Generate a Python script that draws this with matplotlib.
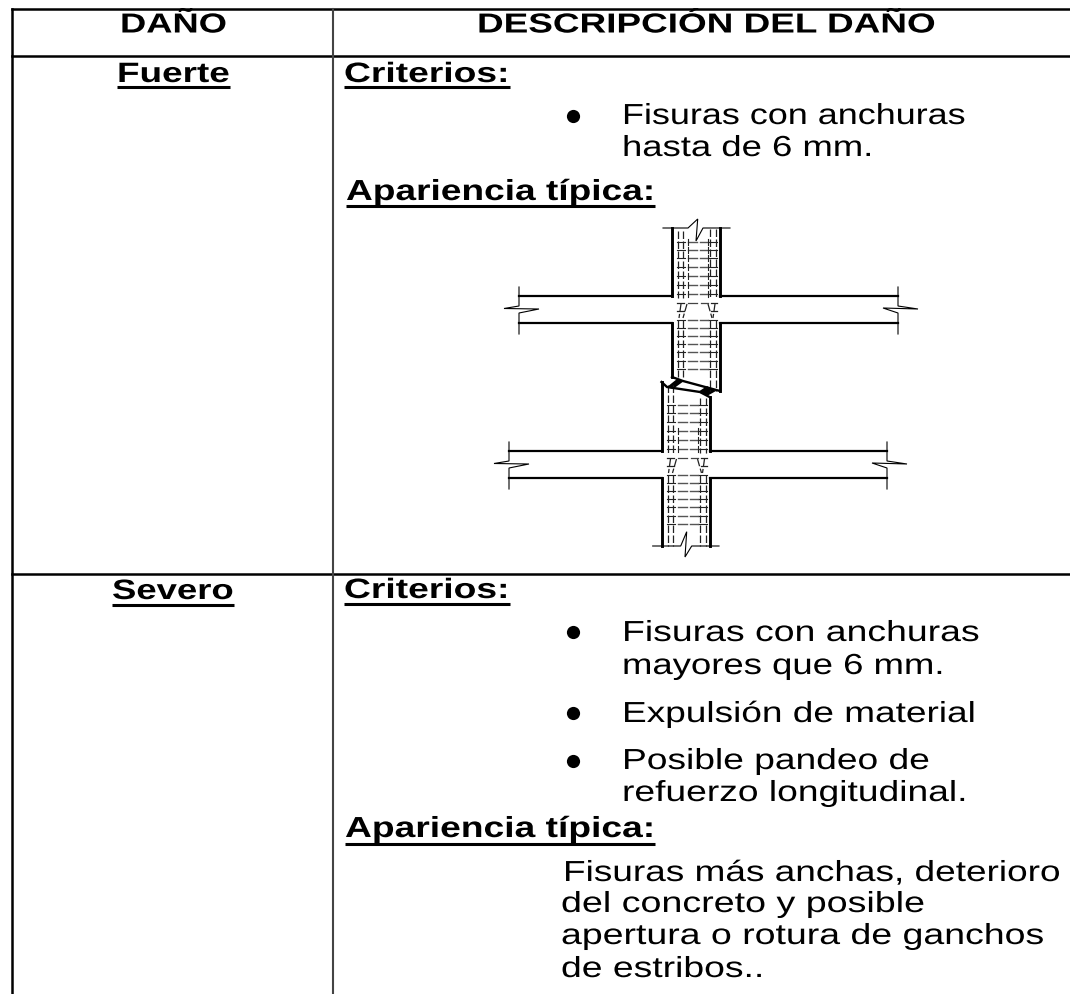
import matplotlib
matplotlib.use("Agg")
import matplotlib.pyplot as plt
import matplotlib.patheffects as pe
from matplotlib.patches import Polygon, Rectangle
from matplotlib.transforms import Affine2D

plt.rcParams['font.family'] = ['Liberation Sans', 'DejaVu Sans']

headers = ["DAÑO", "DESCRIPCIÓN DEL DAÑO"]
damage_levels = ["Fuerte", "Severo"]
section_labels = ["Criterios:", "Apariencia típica:"]
fuerte_lines = ["Fisuras con anchuras", "hasta de 6 mm."]
severo_lines = ["Fisuras con anchuras", "mayores que 6 mm.", "Expulsión de material",
                "Posible pandeo de", "refuerzo longitudinal."]
severo_note = ["Fisuras más anchas, deterioro", "del concreto y posible",
               "apertura o rotura de ganchos", "de estribos.."]

# estribos, medidos desde la cara superior de la viga
ties_above = [-54, -46, -38, -29, -20, -11, -2]
ties_below = [24, 32, 40, 48, 56, 65, 73]
bars = [6, 11, 38, 44]

fig = plt.figure(figsize=(10.7, 9.95), dpi=100)
ax = fig.add_axes([0, 0, 1, 1])
ax.set_xlim(0, 1070)
ax.set_ylim(995, 0)
ax.axis('off')
renderer = fig.canvas.get_renderer()


class Stretch(pe.AbstractPathEffect):
    def __init__(self, sx, x0):
        self.sx = sx
        self.x0 = x0

    def draw_path(self, renderer, gc, tpath, affine, rgbFace=None):
        t = Affine2D().translate(-self.x0, 0).scale(self.sx, 1).translate(self.x0, 0)
        renderer.draw_path(gc, tpath, affine + t, rgbFace)


def put(txt, x0, x1, base, size=29, bold=False, under=None, clip=None):
    t = ax.text(x0, base, txt, fontsize=size * 0.72, va='baseline', ha='left', color='black',
                fontweight='bold' if bold else 'normal')
    w = t.get_window_extent(renderer).width
    t.set_path_effects([Stretch((x1 - x0) / w, x0)])
    if clip is not None:
        t.set_clip_path(Rectangle((0, clip), 1070, 995 - clip, transform=ax.transData))
    if under is not None:
        ax.plot([x0, x1], [under, under], color='black', lw=2.2, solid_capstyle='butt')


def line(xs, ys, lw=1.8, color='black'):
    ax.plot(xs, ys, color=color, lw=lw, solid_joinstyle='miter')


def dashed(xs, ys):
    ax.plot(xs, ys, color='#222222', lw=0.9, dashes=(6, 2))


def ties(cx, ys, tee):
    for y in ys:
        line([cx + 5, cx + 13], [y, y], 0.8, '#222222')
        line([cx + 36, cx + 45], [y, y], 0.8, '#222222')
        line([cx + 16, cx + 25], [y, y], 1.0, '#555555')
        line([cx + 28, cx + 36], [y, y], 1.0, '#555555')
        if tee:
            line([cx + 16, cx + 16], [y - 3, y + 3], 0.8, '#222222')
            line([cx + 36, cx + 36], [y - 3, y + 3], 0.8, '#222222')


def joint(cx, top, up_l, up_r, low_l, low_r, beam_left, beam_right, flat_above):
    bot = top + 27
    # vigas
    line([beam_left, cx], [top, top], 1.6)
    line([beam_left, cx], [bot, bot], 1.6)
    line([cx + 48, beam_right], [top, top], 1.6)
    line([cx + 48, beam_right], [bot, bot], 1.6)
    line([beam_left, beam_left, beam_left - 15, beam_left + 20, beam_left, beam_left],
         [top - 9, top + 10, top + 12.5, top + 13, top + 17, top + 38], 0.8)
    line([beam_right, beam_right, beam_right + 20, beam_right - 15, beam_right, beam_right],
         [top - 9, top + 10, top + 13, top + 12, top + 17, top + 38], 0.8)
    # columna
    line([cx, cx], [up_l, top], 2.1)
    line([cx + 48, cx + 48], [up_r, top], 2.1)
    line([cx, cx], [bot, low_l], 2.1)
    line([cx + 48, cx + 48], [bot, low_r], 2.1)
    # barras
    for b in bars:
        up = up_l + 3 if b < 20 else up_r + 1
        low = low_l if b < 20 else low_r
        dashed([cx + b, cx + b], [up, top + 2])
        dashed([cx + b, cx + b], [top + 24, low])
    # estribos
    above = [top + dy for dy in ties_above if top + dy > up_r]
    n = flat_above
    ties(cx, above[:n], False)
    ties(cx, above[n:], True)
    ties(cx, [top + dy for dy in ties_below], False)
    # zona del nudo
    for dy in [7, 15]:
        line([cx + 5, cx + 12], [top + dy, top + dy], 0.9, '#222222')
        line([cx + 39, cx + 45], [top + dy, top + dy], 0.9, '#222222')
    line([cx + 16, cx + 25], [top + 7, top + 7], 0.9, '#444444')
    line([cx + 29, cx + 36], [top + 7, top + 7], 0.9, '#444444')
    dashed([cx + 9, cx + 7], [top + 8, top + 22])
    dashed([cx + 15, cx + 11], [top + 8, top + 22])
    dashed([cx + 36, cx + 40], [top + 8, top + 22])
    dashed([cx + 43, cx + 41], [top + 8, top + 22])


# rejilla de la tabla
line([12, 1070], [10, 10], 1.8)
line([12, 1070], [56.5, 56.5], 1.8)
line([12, 1070], [575, 575], 1.8)
line([12, 12], [10, 995], 1.8)
line([333, 333], [10, 995], 1.5, '#444444')

put(headers[0], 120, 227, 33.5, 27.5, True, clip=13.5)
put(headers[1], 477, 936, 33.5, 27.5, True, clip=12)
put(damage_levels[0], 117, 230, 83, 28, True, under=87.5)
put(section_labels[0], 344, 510, 83, 28, True, under=87.5)
put(section_labels[1], 346, 655, 201, 29, True, under=207)
put(damage_levels[1], 112, 234, 600, 28, True, under=605.5)
put(section_labels[0], 344, 510, 599, 28, True, under=604.5)
put(section_labels[1], 345, 655, 838, 29, True, under=845)

put(fuerte_lines[0], 622, 965, 125)
put(fuerte_lines[1], 622, 873, 157)
put(severo_lines[0], 622, 979, 642)
put(severo_lines[1], 622, 944, 675)
put(severo_lines[2], 622, 976, 723)
put(severo_lines[3], 622, 930, 770)
put(severo_lines[4], 622, 968, 802)
put(severo_note[0], 563, 1060, 882)
put(severo_note[1], 561, 925, 913)
put(severo_note[2], 561, 1044, 945)
put(severo_note[3], 561, 764, 978)

for by in [117, 633, 714, 762]:
    ax.plot([573], [by], 'o', color='black', ms=9.5, mew=0)

# detalle de los dos nudos
joint(672, 297, 229, 229, 378, 392, 519, 898, 0)
joint(661.5, 452, 383, 398, 547, 547, 509, 887, 3)

# extremos de las columnas
line([663, 688, 697.7, 696, 703, 730], [229, 229, 220, 242, 229, 229], 0.8)
line([652.7, 680.7, 686.7, 685, 691.7, 719], [547, 547, 532.7, 558, 547, 547], 0.8)

# fisura
line([672, 683, 720], [378, 382, 392], 1.7)
line([661.5, 667, 700, 709.5], [383, 388, 393, 398], 1.7)
ax.add_patch(Polygon([[667, 388], [677, 380], [684, 382], [673, 390]], color='black', lw=0))
ax.add_patch(Polygon([[698, 393], [707, 387], [716, 392], [707, 397]], color='black', lw=0))

fig.savefig('out.png', dpi=100)
